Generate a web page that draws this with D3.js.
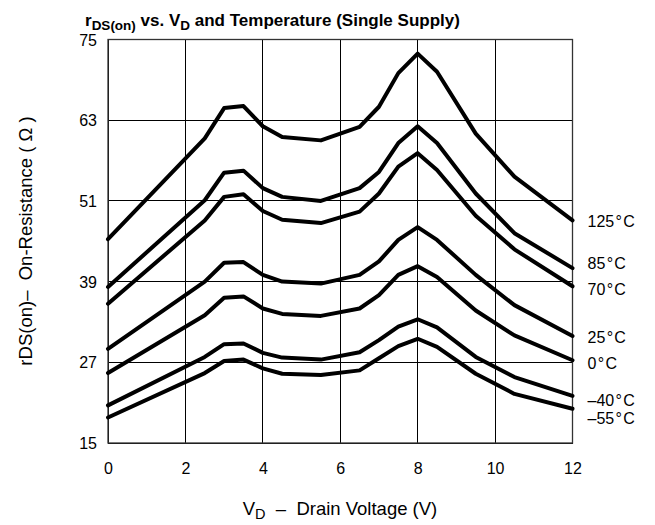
<!DOCTYPE html>
<html><head><meta charset="utf-8">
<script src="https://cdn.jsdelivr.net/npm/d3@7"></script>
<style>body{margin:0;background:#fff}svg{display:block;font-family:Arial,"Liberation Sans",sans-serif}text{white-space:pre}</style>
</head><body>
<svg id="c" width="655" height="525"></svg>
<script>
const vd = [0, 2.5, 3, 3.5, 4, 4.5, 5.5, 6.5, 7, 7.5, 8, 8.5, 9.5, 10.5, 12];
const temps = ["125\u200a°\u200aC", "85\u200a°\u200aC", "70\u200a°\u200aC", "25\u200a°\u200aC", "0\u200a°\u200aC", "–40\u200a°\u200aC", "–55\u200a°\u200aC"];
const r125 = [45.3, 60.3, 64.8, 65.1, 62.1, 60.5, 60.0, 62.0, 65.0, 70.0, 72.9, 70.2, 61.0, 54.6, 48.1];
const r85  = [38.2, 51.1, 55.2, 55.5, 52.9, 51.6, 51.0, 52.9, 55.3, 59.6, 62.1, 59.6, 52.1, 46.2, 41.0];
const r70  = [35.7, 48.1, 51.6, 52.0, 49.5, 48.2, 47.7, 49.4, 52.1, 56.1, 58.1, 55.6, 48.8, 43.8, 38.3];
const r25  = [29.0, 39.0, 41.8, 41.9, 40.0, 39.0, 38.7, 40.0, 42.0, 45.2, 47.1, 45.2, 40.0, 35.5, 30.9];
const r0   = [25.4, 34.0, 36.6, 36.8, 35.0, 34.2, 33.9, 35.0, 37.0, 40.0, 41.3, 39.7, 34.7, 31.0, 27.3];
const rm40 = [20.6, 27.8, 29.7, 29.8, 28.4, 27.7, 27.4, 28.5, 30.3, 32.3, 33.4, 32.2, 27.8, 24.8, 22.0];
const rm55 = [18.8, 25.4, 27.2, 27.4, 26.1, 25.3, 25.1, 25.8, 27.6, 29.4, 30.5, 29.3, 25.3, 22.3, 20.1];
const labelAt = [48.0, 41.7, 37.9, 30.7, 26.9, 21.4, 18.7];
const xTicks = [0, 2, 4, 6, 8, 10, 12];
const yTicks = [15, 27, 39, 51, 63, 75];

const series = [r125, r85, r70, r25, r0, rm40, rm55];
const svg = d3.select("#c");
const L = 108, R = 572.5, T = 39.5, B = 443;
const x = d3.scaleLinear().domain([0, 12]).range([L, R]);
const y = d3.scaleLinear().domain([15, 75]).range([B, T]);
const FF = "Arial, 'Liberation Sans', sans-serif";

// grid
const g = svg.append("g");
g.selectAll("line.v").data(xTicks).join("line")
  .attr("x1", d => x(d)).attr("x2", d => x(d)).attr("y1", T).attr("y2", B)
  .attr("stroke", "#000").attr("stroke-width", 1).attr("shape-rendering", "crispEdges");
g.selectAll("line.h").data(yTicks).join("line")
  .attr("x1", L).attr("x2", R).attr("y1", d => y(d)).attr("y2", d => y(d))
  .attr("stroke", "#000").attr("stroke-width", 1).attr("shape-rendering", "crispEdges");
svg.append("rect").attr("x", L).attr("y", T).attr("width", R - L).attr("height", B - T)
  .attr("fill", "none").attr("stroke", "#333").attr("stroke-width", 1.3);

// axes (labels only)
const xAxis = svg.append("g").attr("transform", `translate(0,${B})`)
  .call(d3.axisBottom(x).tickValues(xTicks).tickSize(0).tickPadding(20));
xAxis.select(".domain").remove();
xAxis.attr("font-size", 16).attr("font-family", FF);
xAxis.selectAll("text").attr("fill", "#000");
const yAxis = svg.append("g").attr("transform", `translate(${L},0)`)
  .call(d3.axisLeft(y).tickValues(yTicks).tickSize(0).tickPadding(11));
yAxis.select(".domain").remove();
yAxis.attr("font-size", 16).attr("font-family", FF);
yAxis.selectAll("text").attr("fill", "#000").attr("dy", "0.35em");

// curves
const line = d3.line().x((d, i) => x(vd[i])).y(d => y(d));
svg.append("g").selectAll("path").data(series).join("path")
  .attr("d", line).attr("fill", "none").attr("stroke", "#000")
  .attr("stroke-width", 4).attr("stroke-linejoin", "round").attr("stroke-linecap", "round");

// labels
svg.append("g").selectAll("text").data(temps).join("text")
  .attr("x", R + 15).attr("y", (d, i) => y(labelAt[i])).attr("dy", "0.35em")
  .attr("font-size", 16).text(d => d);

// title
const t = svg.append("text").attr("x", 85).attr("y", 26).attr("font-weight", "bold").attr("font-size", 17);
t.append("tspan").text("r");
t.append("tspan").attr("font-size", 13.5).attr("dy", 4).text("DS(on)");
t.append("tspan").attr("dy", -4).text(" vs. V");
t.append("tspan").attr("font-size", 13.5).attr("dy", 4).text("D");
t.append("tspan").attr("dy", -4).text(" and Temperature (Single Supply)");

// x label
const xl = svg.append("text").attr("x", 340).attr("y", 515).attr("text-anchor", "middle").attr("font-size", 18.5);
xl.append("tspan").text("V");
xl.append("tspan").attr("font-size", 14.5).attr("dy", 4).text("D");
xl.append("tspan").attr("dy", -4).text("  –  Drain Voltage (V)");

// y label
svg.append("text").attr("transform", `translate(32,241) rotate(-90)`)
  .attr("text-anchor", "middle").attr("font-size", 18.5)
  .text("rDS(on)–  On-Resistance ( Ω )");
</script>
</body></html>
